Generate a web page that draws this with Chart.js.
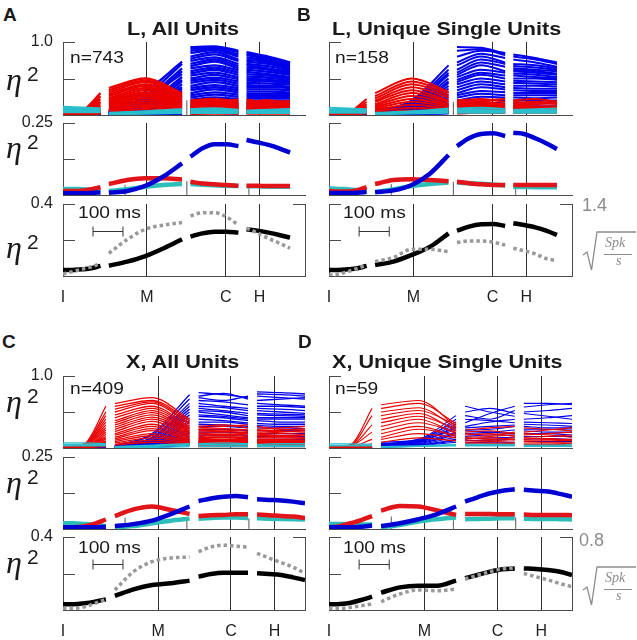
<!DOCTYPE html>
<html>
<head>
<meta charset="utf-8">
<title>eta squared by epoch</title>
<script src="https://cdn.jsdelivr.net/npm/chart.js@4.4.1/dist/chart.umd.min.js"></script>
<style>
  html, body { margin: 0; padding: 0; background: #fff; }
  #fig { position: relative; width: 637px; height: 640px; overflow: hidden; font-family: "Liberation Sans", Arial, sans-serif; color: #1a1a1a; }
  #fig canvas { position: absolute; }
  .txt { position: absolute; white-space: nowrap; line-height: 1; z-index: 5; }
  .wide { transform: scaleX(1.2); transform-origin: 0 0; }
  .letter { font-weight: bold; font-size: 19px; }
  .title { font-weight: bold; font-size: 18px; }
  .n, .ms { font-size: 16px; }
  .eta { position: absolute; z-index: 5; width: 40px; height: 36px; }
  .eta .g { position: absolute; left: 0; top: 0; font: italic 32px "Liberation Serif", "Times New Roman", serif; line-height: 1; }
  .eta .p { position: absolute; left: 21px; top: 0; font-size: 21px; line-height: 1; }
  .rlab { color: #8c8c8c; font-size: 18px; }
  .sq { position: absolute; width: 60px; height: 48px; z-index: 5; color: #8c8c8c; font: italic 14px "Liberation Serif", serif; }
  .sq span { position: absolute; line-height: 1; }
</style>
</head>
<body>
<div id="fig"></div>
<script>
// ---- data ----
const eventNames = ['I', 'M', 'C', 'H'];
// event times (ms after I) for L and X sessions
const eventsL = [0, 280, 543, 655];
const eventsX = [0, 317, 560, 705];
// sample times of the four aligned epochs (ms)
const timesL = [[0, 31, 62, 94, 125], [153, 214, 275, 336, 397], [425, 465, 505, 545, 585], [612, 648, 685, 721, 757]];
const timesX = [[0, 36, 72, 107, 143], [173, 235, 297, 360, 422], [452, 493, 535, 576, 617], [647, 687, 727, 767, 807]];
const timeMax = 807;
const scaleBar = [100, 200];            // 100 ms
const rateMaxL = 1.4, rateMaxX = 0.8;   // sqrt(spk/s) axis tops
const markTimes = [207, 413, 620];

// mean eta^2 per epoch (5 samples per epoch)
const meanBlueA = [0.006,0.006,0.006,0.007,0.009, 0.008,0.014,0.032,0.065,0.11, 0.133,0.162,0.176,0.176,0.170, 0.191,0.183,0.174,0.162,0.147];
const meanRedA  = [0.014,0.014,0.015,0.02,0.027, 0.038,0.052,0.058,0.058,0.054, 0.046,0.04,0.037,0.035,0.032, 0.032,0.032,0.031,0.031,0.031];
const meanCyanA = [0.021,0.021,0.02,0.019,0.018, 0.014,0.02,0.029,0.035,0.038, 0.038,0.036,0.034,0.032,0.031, 0.03,0.03,0.029,0.029,0.029];
const meanBlueB = [0.007,0.007,0.007,0.008,0.011, 0.01,0.016,0.035,0.075,0.139, 0.17,0.197,0.212,0.214,0.205, 0.216,0.212,0.197,0.18,0.16];
const meanRedB  = [0.014,0.012,0.012,0.017,0.027, 0.038,0.052,0.055,0.052,0.048, 0.046,0.041,0.037,0.035,0.035, 0.035,0.035,0.035,0.035,0.035];
const meanCyanB = [0.023,0.021,0.02,0.017,0.017, 0.01,0.02,0.031,0.038,0.043, 0.043,0.041,0.039,0.036,0.033, 0.028,0.028,0.027,0.027,0.027];
const meanBlueC = [0.006,0.006,0.006,0.006,0.008, 0.01,0.017,0.029,0.052,0.078, 0.097,0.106,0.112,0.115,0.11, 0.103,0.101,0.099,0.095,0.089];
const meanRedC  = [0.006,0.006,0.01,0.019,0.033, 0.045,0.068,0.078,0.066,0.052, 0.045,0.048,0.049,0.051,0.051, 0.05,0.048,0.045,0.043,0.038];
const meanCyanC = [0.02,0.02,0.017,0.014,0.01, 0.006,0.01,0.02,0.029,0.036, 0.036,0.038,0.04,0.04,0.038, 0.037,0.036,0.035,0.034,0.033];
const meanBlueD = [0.006,0.006,0.006,0.008,0.012, 0.01,0.02,0.034,0.052,0.078, 0.095,0.11,0.124,0.133,0.138, 0.136,0.133,0.13,0.122,0.112];
const meanRedD  = [0.006,0.01,0.02,0.031,0.045, 0.064,0.08,0.078,0.064,0.049, 0.052,0.052,0.052,0.051,0.051, 0.05,0.049,0.049,0.049,0.048];
const meanCyanD = [0.017,0.017,0.017,0.016,0.016, 0.006,0.014,0.026,0.034,0.04, 0.034,0.035,0.036,0.037,0.037, 0.036,0.035,0.035,0.034,0.033];

// population eta^2 (black) and sqrt firing rate (gray, right axis)
const etaA  = [0.033,0.033,0.037,0.043,0.056, 0.057,0.08,0.111,0.154,0.204, 0.219,0.237,0.246,0.246,0.241, 0.259,0.252,0.241,0.228,0.213];
const rateA = [0.04,0.084,0.13,0.18,0.246, 0.44,0.71,0.91,0.99,1.04, 1.17,1.23,1.23,1.15,0.99, 0.93,0.84,0.73,0.64,0.54];
const etaB  = [0.033,0.033,0.037,0.043,0.056, 0.061,0.08,0.117,0.163,0.237, 0.252,0.274,0.287,0.289,0.278, 0.293,0.283,0.27,0.252,0.228];
const rateB = [0.02,0.04,0.083,0.15,0.21, 0.28,0.36,0.52,0.52,0.47, 0.65,0.68,0.68,0.66,0.6, 0.54,0.49,0.43,0.34,0.3];
const etaC  = [0.031,0.031,0.037,0.046,0.058, 0.077,0.113,0.137,0.146,0.161, 0.183,0.197,0.204,0.204,0.204, 0.201,0.197,0.192,0.179,0.164];
const rateC = [0.018,0.018,0.036,0.073,0.117, 0.22,0.42,0.53,0.57,0.58, 0.64,0.69,0.71,0.70,0.69, 0.62,0.57,0.52,0.47,0.40];
const etaD  = [0.031,0.033,0.04,0.055,0.073, 0.095,0.124,0.133,0.133,0.161, 0.174,0.192,0.21,0.223,0.228, 0.228,0.225,0.219,0.21,0.192];
const rateD = [0.018,0.018,0.029,0.047,0.066, 0.091,0.175,0.22,0.21,0.23, 0.34,0.38,0.42,0.45,0.46, 0.40,0.365,0.33,0.29,0.255];

// short epoch markers in the mean panels (height in eta^2)
const markA = [0.035, 0.049, 0.027];
const markB = [0.038, 0.046, 0.029];
const markC = [0.04, 0.034, 0.037];
const markD = [0.043, 0.031, 0.04];

// single units, eta^2 in % : start/mid/end of each of the 4 epochs
const blueUnitsA = [
  "3 3 4 6 32 73 93 94 88 86 80 72", "2 3 3 4 26 70 91 92 86 84 78 71", "2 2 3 5 22 64 88 90 83 82 76 69",
  "3 2 2 3 18 60 85 89 80 79 74 67", "2 3 3 4 24 56 80 86 76 76 72 65", "2 2 3 4 15 52 77 83 74 73 70 63",
  "1 2 2 3 14 48 74 79 70 70 67 61", "2 3 3 4 12 46 70 76 67 68 64 59", "2 2 2 3 10 42 67 73 64 65 62 57",
  "1 1 2 2 9 38 64 68 61 62 59 55", "2 2 2 3 8 36 60 65 58 59 56 52", "1 2 2 2 7 33 57 62 55 56 54 50",
  "1 1 1 2 7 30 54 58 52 53 51 48", "2 2 2 3 6 27 50 55 49 50 48 46", "1 1 2 2 5 25 47 51 46 47 46 44",
  "1 1 1 2 5 22 44 48 43 44 43 42", "1 2 2 2 4 20 40 45 40 41 40 39", "1 1 1 2 4 18 37 41 37 38 38 37",
  "1 1 1 2 3 16 34 38 34 35 35 34", "1 1 1 1 3 14 30 35 31 32 32 31", "1 1 1 1 3 12 27 31 28 29 29 29",
  "1 1 1 1 2 10 24 28 25 26 26 26", "1 1 1 1 2 9 21 24 22 23 23 23", "1 1 1 1 2 7 18 21 19 20 20 20",
  "1 1 1 1 2 6 15 18 16 17 17 17", "1 1 1 1 2 5 12 14 13 14 14 14", "1 1 1 1 1 4 9 11 10 11 11 11",
  "1 1 1 1 1 3 6 8 7 8 8 8", "1 1 1 1 1 2 4 5 4 5 5 5", "1 1 1 1 1 2 2 3 2 3 3 3"
];
const redUnitsA = [
  "1 5 30 37 50 30 20 22 18 17 20 15", "1 4 26 34 47 28 18 20 16 15 18 19", "1 4 22 31 45 26 16 18 21 21 16 14",
  "1 3 18 28 42 24 14 17 15 17 14 12", "1 3 16 26 40 22 12 15 13 13 15 16", "1 2 13 23 37 20 11 13 12 12 11 10",
  "1 2 11 21 34 18 9 12 10 10 12 11", "1 2 9 19 31 16 8 10 9 9 10 8", "1 2 8 17 29 14 7 9 8 8 8 9",
  "1 2 7 15 26 13 6 8 7 7 7 6", "1 1 6 13 23 11 5 7 6 6 6 6", "1 1 5 11 20 10 4 6 5 5 5 5",
  "1 1 4 9 17 8 4 5 4 4 4 4", "1 1 3 7 14 7 3 4 3 3 3 3", "1 1 3 6 11 6 2 3 3 3 3 3", "1 1 2 4 8 5 2 2 2 2 2 2"
];
const cyanUnitsA = ["11 10 9 3 5 8 8 9 7 6 7 8", "8 8 7 2 4 6 6 7 6 5 5 6", "6 6 5 2 3 4 4 5 5 4 4 4", "4 4 4 1 2 3 3 3 3 3 3 3"];

const blueUnitsB = [
  "2 2 3 4 20 68 93 92 84 83 78 72", "2 2 2 3 18 62 88 90 82 80 76 70", "1 2 2 3 16 58 80 88 85 76 72 66",
  "2 2 3 4 14 55 72 84 78 70 68 64", "1 1 2 3 12 50 68 80 72 67 65 62", "2 2 2 3 10 46 62 76 70 64 62 60",
  "1 1 2 2 9 44 58 72 66 62 60 57", "1 2 2 3 8 40 55 68 60 60 58 55", "1 1 1 2 7 36 52 62 58 57 55 52",
  "1 1 2 2 6 32 48 58 54 54 52 50", "1 1 1 2 6 28 45 55 50 50 50 48", "1 1 1 2 5 25 42 50 46 47 46 45",
  "1 1 1 2 4 22 38 46 42 44 43 42", "1 1 1 1 4 19 34 42 38 40 40 39", "1 1 1 1 3 16 30 38 35 37 36 36",
  "1 1 1 1 3 14 27 33 31 34 33 33", "1 1 1 1 3 12 24 29 27 30 30 30", "1 1 1 1 2 10 20 25 24 27 27 27",
  "1 1 1 1 2 8 17 21 20 24 23 24", "1 1 1 1 2 6 14 17 16 20 20 20", "1 1 1 1 2 5 11 13 12 16 16 16",
  "1 1 1 1 1 4 8 10 9 12 12 12", "1 1 1 1 1 3 5 7 6 8 8 8", "1 1 1 1 1 2 3 4 3 4 4 4"
];
const redUnitsB = [
  "1 3 22 30 50 32 20 22 18 20 22 18", "1 3 18 26 46 30 18 20 22 18 16 19", "1 2 15 23 42 27 16 18 15 16 18 15",
  "1 2 12 20 38 24 14 16 14 14 15 16", "1 2 10 18 34 20 12 14 12 13 12 12", "1 1 8 15 30 18 10 12 10 11 11 10",
  "1 1 7 13 26 15 9 10 9 10 9 9", "1 1 5 11 22 13 7 8 8 8 8 7", "1 1 4 9 18 11 6 7 6 6 6 6",
  "1 1 3 7 14 9 5 5 5 5 5 5", "1 1 3 5 10 7 3 4 4 4 4 4", "1 1 2 3 6 5 2 3 3 3 3 3"
];
const cyanUnitsB = ["10 9 8 3 5 9 9 10 8 7 8 9", "7 7 6 2 4 7 7 7 6 5 6 6", "5 5 5 2 3 5 5 5 4 4 4 4", "3 3 3 1 2 3 3 3 3 3 3 3"];

const blueUnitsC = [
  "1 2 3 3 20 74 77 74 70 78 77 75", "1 2 2 3 18 68 72 76 68 75 74 72", "1 1 2 2 15 62 70 66 72 72 70 68",
  "1 2 2 3 14 58 66 64 60 66 68 70", "1 1 2 2 12 54 62 58 55 62 60 58", "1 1 1 2 10 50 58 56 52 58 58 56",
  "1 1 2 2 9 46 55 52 48 55 54 52", "1 1 1 2 8 42 52 50 45 52 50 48", "1 1 1 2 7 38 50 46 42 48 47 46",
  "1 1 1 2 6 35 46 44 40 46 45 44", "1 1 1 1 6 32 44 42 38 42 42 42", "1 1 1 1 5 28 40 38 35 40 40 40",
  "1 1 1 1 5 25 36 36 33 38 36 36", "1 1 1 1 4 22 33 32 30 34 33 33", "1 1 1 1 4 20 30 30 28 31 30 30",
  "1 1 1 1 3 17 26 26 24 28 28 27", "1 1 1 1 3 14 22 22 21 24 24 24", "1 1 1 1 3 12 18 18 18 20 20 20",
  "1 1 1 1 2 10 14 15 14 16 16 16", "1 1 1 1 2 8 10 11 10 12 12 12", "1 1 1 1 2 6 7 8 7 8 8 8",
  "1 1 1 1 1 4 4 5 4 5 5 5"
];
const redUnitsC = [
  "1 6 58 62 70 40 30 32 28 26 28 30", "1 5 50 58 66 38 28 30 32 30 26 25", "1 5 45 54 64 35 26 27 25 24 25 27",
  "1 4 40 50 62 33 24 25 23 22 23 22", "1 4 36 46 58 30 22 23 21 20 22 24", "1 3 32 42 55 28 20 21 20 18 20 19",
  "1 3 28 38 52 26 18 19 18 17 17 18", "1 3 25 35 49 24 16 17 16 15 16 15", "1 2 22 32 46 22 14 15 14 14 14 14",
  "1 2 19 29 43 20 13 14 13 12 12 13", "1 2 16 26 40 18 12 12 12 11 11 11", "1 2 14 23 37 16 11 11 10 10 10 10",
  "1 2 12 20 33 14 10 10 9 9 9 9", "1 1 10 18 30 12 9 9 8 8 8 8", "1 1 8 15 27 11 8 8 7 7 7 7",
  "1 1 7 13 24 10 7 7 6 6 6 6", "1 1 6 11 20 9 6 6 5 5 5 5", "1 1 5 9 17 8 5 5 4 4 4 4",
  "1 1 4 7 14 7 4 4 4 4 4 4", "1 1 3 5 11 6 3 3 3 3 3 3", "1 1 2 4 8 5 2 2 2 2 2 2"
];
const cyanUnitsC = ["7 7 6 2 4 6 6 7 6 5 6 6", "5 5 5 2 3 5 5 5 5 4 4 4", "4 4 4 1 2 4 4 4 4 3 3 3", "3 3 3 1 1 2 2 2 2 2 2 2"];

const blueUnitsD = [
  "1 1 1 8 12 45 58 50 44 62 62 60", "1 1 2 6 10 40 35 48 58 57 60 62", "1 1 1 5 12 36 50 55 48 50 52 55",
  "1 1 1 4 10 33 45 40 52 48 44 40", "1 1 1 5 9 30 40 38 35 40 42 45", "1 1 1 3 8 28 30 36 40 36 35 34",
  "1 1 1 4 10 25 28 30 32 33 32 30", "1 1 1 3 8 22 25 26 30 30 28 28", "1 1 1 3 7 20 24 22 20 26 26 25",
  "1 1 1 2 6 18 20 22 25 24 22 22", "1 1 1 2 5 15 16 18 18 20 20 18", "1 1 1 2 4 12 13 14 15 16 16 16",
  "1 1 1 2 4 10 10 11 12 12 13 12", "1 1 1 1 3 8 7 8 8 9 9 9"
];
const redUnitsD = [
  "1 5 55 60 66 30 25 28 30 28 26 24", "1 4 45 55 62 34 22 24 20 22 25 28", "1 3 32 50 56 28 20 18 22 18 20 22",
  "1 3 22 45 52 32 18 20 16 20 18 15", "1 2 12 40 48 24 15 16 18 15 16 18", "1 2 6 35 44 26 14 12 14 14 12 12",
  "1 1 3 30 40 20 12 14 11 12 13 10", "1 1 2 25 35 22 10 10 12 10 10 11", "1 1 2 20 30 16 8 9 8 9 8 8",
  "1 1 2 15 26 18 7 7 6 7 7 6", "1 1 1 12 20 14 5 6 5 5 5 5", "1 1 1 8 14 10 4 4 4 4 4 4"
];
const cyanUnitsD = ["6 6 5 2 3 5 5 5 5 4 4 5", "4 4 4 1 2 4 4 4 4 3 3 3", "3 3 3 1 2 3 3 3 3 2 2 2"];

// ---- drawing ----
const FONT = '"Liberation Sans", Arial, sans-serif';
const AXIS = '#4a4a4a', EVENT = '#2e2e2e';
const BLUE = 'rgb(0,0,235)', RED = 'rgb(235,0,0)', CYAN = 'rgb(40,190,205)';
const MBLUE = 'rgb(0,0,210)', MRED = 'rgb(225,20,25)', MCYAN = 'rgb(45,190,185)';
const ML = 50, MR = 12, MT = 14;
const fig = document.getElementById('fig');

const inTicks = {
  id: 'inTicks',
  afterDraw(chart, args, opts) {
    const { ctx, chartArea: a, scales } = chart;
    ctx.save();
    ctx.strokeStyle = AXIS;
    ctx.lineWidth = 1;
    ctx.beginPath();
    scales.y.ticks.forEach(t => {
      if (t.value <= 0) return;
      const py = Math.round(scales.y.getPixelForValue(t.value)) + 0.5;
      ctx.moveTo(a.left, py); ctx.lineTo(a.left + 12, py);
    });
    if (scales.y2) scales.y2.ticks.forEach(t => {
      if (t.value <= 0) return;
      const py = Math.round(scales.y2.getPixelForValue(t.value)) + 0.5;
      ctx.moveTo(a.right, py); ctx.lineTo(a.right - 12, py);
    });
    ctx.stroke();
    if (opts.bar) {
      const x1 = scales.x.getPixelForValue(opts.bar[0]);
      const x2 = scales.x.getPixelForValue(opts.bar[1]);
      const py = Math.round(scales.y.getPixelForValue(opts.barY)) + 0.5;
      ctx.strokeStyle = '#333';
      ctx.beginPath();
      ctx.moveTo(x1, py); ctx.lineTo(x2, py);
      ctx.moveTo(x1, py - 5); ctx.lineTo(x1, py + 5);
      ctx.moveTo(x2, py - 5); ctx.lineTo(x2, py + 5);
      ctx.stroke();
    }
    ctx.restore();
  }
};

function points(times, vals) {
  const per = vals.length / 4;
  const idx = per === 5 ? [0, 1, 2, 3, 4] : [0, 2, 4];
  const pts = [];
  for (let s = 0; s < 4; s++) {
    idx.forEach((k, j) => pts.push({ x: times[s][k], y: vals[s * per + j] }));
    if (s < 3) pts.push({ x: times[s][4] + 1, y: null });
  }
  return pts;
}

function unitSets(list, color, width, times) {
  return list.map(str => ({
    data: points(times, str.trim().split(/\s+/).map(v => Number(v) / 100)),
    borderColor: color, borderWidth: width, borderJoinStyle: 'round'
  }));
}

function lineSet(times, vals, color, width, extra) {
  return Object.assign({ data: points(times, vals), borderColor: color, borderWidth: width, borderCapStyle: 'butt' }, extra || {});
}

function markSet(t, h) {
  return { data: [{ x: t, y: 0 }, { x: t, y: h }], borderColor: AXIS, borderWidth: 1, tension: 0 };
}

function subplot(p, row, sets, cfg) {
  const [top, bottom] = p.rows[row];
  const last = row === 2;
  const XH = last ? 34 : 1;
  const c = document.createElement('canvas');
  const W = p.w + ML + MR, H = (bottom - top) + MT + XH;
  c.width = W; c.height = H;
  c.style.left = (p.x - ML) + 'px'; c.style.top = (top - MT) + 'px';
  c.style.width = W + 'px'; c.style.height = H + 'px';
  fig.appendChild(c);

  const scales = {
    x: {
      type: 'linear', min: 0, max: timeMax,
      afterFit: s => { s.height = XH; s.paddingLeft = 0; s.paddingRight = 0; },
      afterBuildTicks: s => { s.ticks = p.events.map(v => ({ value: v })); },
      grid: { display: true, drawOnChartArea: true, drawTicks: false, color: EVENT, lineWidth: 1 },
      border: { display: true, color: AXIS, width: 1 },
      ticks: { display: last, autoSkip: false, maxRotation: 0, minRotation: 0, padding: 12,
               font: { family: FONT, size: 16 }, color: '#222', callback: (v, i) => eventNames[i] }
    },
    y: {
      min: 0, max: cfg.yMax,
      afterFit: s => { s.width = ML; s.paddingTop = 0; s.paddingBottom = 0; },
      afterBuildTicks: s => { s.ticks = cfg.yTicks.map(v => ({ value: v })); },
      grid: { display: false, drawTicks: false },
      border: { display: true, color: AXIS, width: 1 },
      ticks: { display: p.labels, padding: 10, font: { family: FONT, size: 16 }, color: '#222',
               callback: v => (v === cfg.yMax ? cfg.yLabel : '') }
    }
  };
  if (last) {
    scales.y2 = {
      position: 'right', min: 0, max: p.rateMax,
      afterFit: s => { s.width = MR; s.paddingTop = 0; s.paddingBottom = 0; },
      afterBuildTicks: s => { s.ticks = [0, p.rateMax].map(v => ({ value: v })); },
      grid: { display: false, drawTicks: false },
      border: { display: true, color: AXIS, width: 1 },
      ticks: { display: false }
    };
  }

  new Chart(c, {
    type: 'line',
    data: {
      datasets: sets.map((d, i) => Object.assign({
        pointRadius: 0, fill: false, spanGaps: false, order: -i,
        tension: 0.4, cubicInterpolationMode: 'monotone'
      }, d))
    },
    options: {
      responsive: false, animation: false, devicePixelRatio: 1, events: [],
      layout: { padding: { top: MT, right: last ? 0 : MR, left: 0, bottom: 0 } },
      plugins: {
        legend: { display: false }, tooltip: { enabled: false },
        inTicks: { bar: last ? scaleBar : null, barY: 0.25 }
      },
      scales
    },
    plugins: [inTicks]
  });
}

function text(cls, str, x, y) {
  const d = document.createElement('div');
  d.className = 'txt ' + cls;
  d.textContent = str;
  d.style.left = x + 'px'; d.style.top = y + 'px';
  fig.appendChild(d);
  return d;
}

function etaLabel(x, y) {
  const d = document.createElement('div');
  d.className = 'eta';
  d.style.left = x + 'px'; d.style.top = y + 'px';
  d.innerHTML = '<span class="g">η</span><span class="p">2</span>';
  fig.appendChild(d);
}

function sqrtLabel(x, y) {
  const d = document.createElement('div');
  d.className = 'sq';
  d.style.left = x + 'px'; d.style.top = y + 'px';
  d.innerHTML = '<svg width="60" height="46" style="position:absolute;left:0;top:0">' +
    '<path d="M3 27 L7 24 L11.5 42 L17 4 L56 4" fill="none" stroke="#8c8c8c" stroke-width="1.3"/>' +
    '<line x1="24" y1="26.5" x2="52" y2="26.5" stroke="#8c8c8c" stroke-width="1"/></svg>' +
    '<span style="left:25px;top:8px">Spk</span><span style="left:36px;top:26px">s</span>';
  fig.appendChild(d);
}

const panels = [
  { name: 'A', title: 'L, All Units', n: 'n=743', x: 63, w: 242, rows: [[42, 115], [123, 195], [204, 276]],
    labels: true, events: eventsL, times: timesL, rateMax: rateMaxL, lw: 2.3,
    blue: blueUnitsA, red: redUnitsA, cyan: cyanUnitsA, mB: meanBlueA, mR: meanRedA, mC: meanCyanA,
    marks: markA, topMark: 0.2, eta: etaA, rate: rateA },
  { name: 'B', title: 'L, Unique Single Units', n: 'n=158', x: 329, w: 243, rows: [[42, 115], [123, 195], [204, 276]],
    labels: false, events: eventsL, times: timesL, rateMax: rateMaxL, lw: 2.0,
    blue: blueUnitsB, red: redUnitsB, cyan: cyanUnitsB, mB: meanBlueB, mR: meanRedB, mC: meanCyanB,
    marks: markB, topMark: 0.18, eta: etaB, rate: rateB },
  { name: 'C', title: 'X, All Units', n: 'n=409', x: 63, w: 242, rows: [[376, 448], [457, 529], [537, 610]],
    labels: true, events: eventsX, times: timesX, rateMax: rateMaxX, lw: 1.3,
    blue: blueUnitsC, red: redUnitsC, cyan: cyanUnitsC, mB: meanBlueC, mR: meanRedC, mC: meanCyanC,
    marks: markC, topMark: 0, eta: etaC, rate: rateC },
  { name: 'D', title: 'X, Unique Single Units', n: 'n=59', x: 329, w: 243, rows: [[376, 448], [457, 529], [537, 610]],
    labels: false, events: eventsX, times: timesX, rateMax: rateMaxX, lw: 1.1,
    blue: blueUnitsD, red: redUnitsD, cyan: cyanUnitsD, mB: meanBlueD, mR: meanRedD, mC: meanCyanD,
    marks: markD, topMark: 0, eta: etaD, rate: rateD }
];

panels.forEach(p => {
  const topSets = [];
  if (p.topMark) topSets.push(markSet(markTimes[1], p.topMark));
  topSets.push(...unitSets(p.blue, BLUE, p.lw, p.times), ...unitSets(p.red, RED, p.lw, p.times),
               ...unitSets(p.cyan, CYAN, p.lw, p.times));
  subplot(p, 0, topSets, { yMax: 1, yTicks: [0, 0.5, 1], yLabel: '1.0' });

  const midSets = p.marks.map((h, i) => markSet(markTimes[i], h));
  midSets.push(lineSet(p.times, p.mC, MCYAN, 4.5), lineSet(p.times, p.mR, MRED, 4.5), lineSet(p.times, p.mB, MBLUE, 4.5));
  subplot(p, 1, midSets, { yMax: 0.25, yTicks: [0, 0.125, 0.25], yLabel: '0.25' });

  const botSets = [
    lineSet(p.times, p.eta, '#000', 4.5, { yAxisID: 'y' }),
    lineSet(p.times, p.rate, '#999', 3.5, { yAxisID: 'y2', borderDash: [3.5, 3] })
  ];
  subplot(p, 2, botSets, { yMax: 0.4, yTicks: [0, 0.2, 0.4], yLabel: '0.4' });
});

// ---- text ----
text('letter', 'A', 3, 5);
text('letter', 'B', 297, 5);
text('letter', 'C', 2, 332);
text('letter', 'D', 298, 332);
text('title wide', panels[0].title, 127, 20);
text('title wide', panels[1].title, 332, 20);
text('title wide', panels[2].title, 126, 353);
text('title wide', panels[3].title, 332, 353);
text('n wide', panels[0].n, 70, 50);
text('n wide', panels[1].n, 335, 50);
text('n wide', panels[2].n, 70, 381);
text('n wide', panels[3].n, 335, 381);
[[78, 205], [343, 205], [78, 540], [343, 540]].forEach(([x, y]) => text('ms wide', '100 ms', x, y));
[63, 131, 231, 385, 466, 546].forEach(y => etaLabel(6, y));
text('rlab', rateMaxL.toFixed(1), 582, 196);
text('rlab', rateMaxX.toFixed(1), 579, 531);
sqrtLabel(580, 228);
sqrtLabel(580, 563);
</script>
</body>
</html>
